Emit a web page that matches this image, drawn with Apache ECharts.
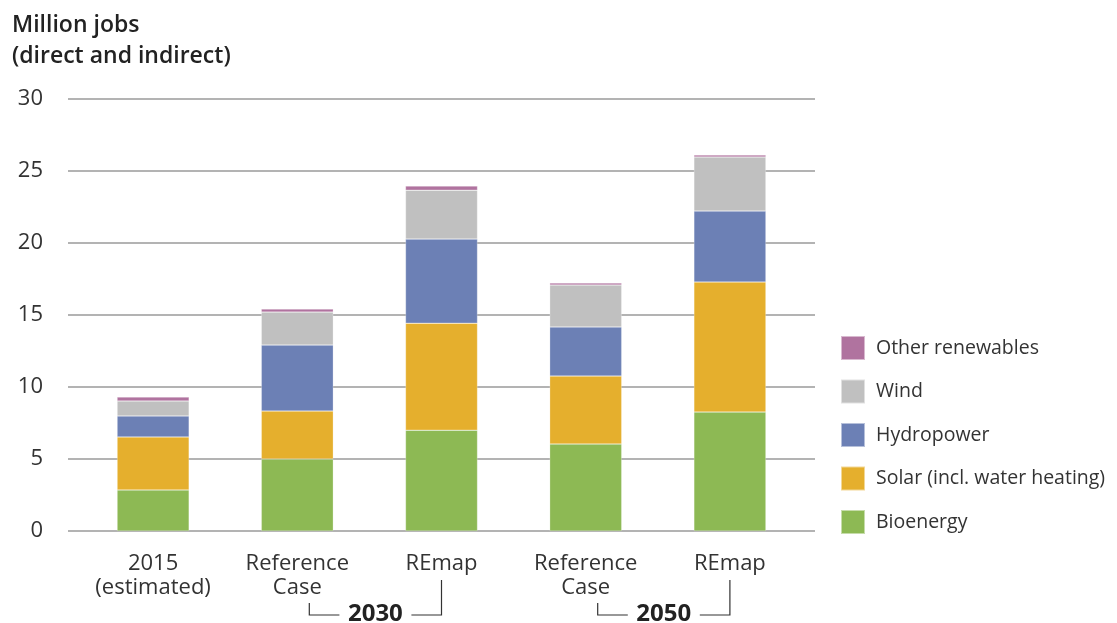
<!DOCTYPE html>
<html>
<head>
<meta charset="utf-8">
<script src="https://cdn.jsdelivr.net/npm/echarts@6/dist/echarts.min.js"></script>
<style>html,body{margin:0;padding:0;background:#fff;}#c{width:1117px;height:623px;}</style>
</head>
<body>
<div id="c"></div>
<script>
const categories = ['2015\n(estimated)', 'Reference\nCase', 'REmap', 'Reference\nCase', 'REmap'];
const groupLabels = ['2030', '2050'];
const bioenergy = [2.85, 5.0, 7.0, 6.04, 8.26];
const solar = [3.68, 3.33, 7.43, 4.72, 9.03];
const hydropower = [1.46, 4.58, 5.84, 3.41, 4.93];
const wind = [1.04, 2.29, 3.4, 2.91, 3.75];
const other = [0.27, 0.21, 0.28, 0.14, 0.14];
const yTicks = [0, 5, 10, 15, 20, 25, 30];

const FONT = '"Open Sans", sans-serif';
const colors = {
  bio: '#8DB954', solar: '#E5AF2D', hydro: '#6C80B5', wind: '#C0C0C0', other: '#B0739F'
};

const chart = echarts.init(document.getElementById('c'));
function mk(name, data, color) {
  return {
    name, type: 'bar', stack: 'total', xAxisIndex: 1, yAxisIndex: 1,
    barWidth: 72, data,
    itemStyle: { color, borderColor: 'rgba(255,255,255,0.5)', borderWidth: 0.5 }
  };
}
const option = {
  animation: false,
  backgroundColor: '#ffffff',
  textStyle: { fontFamily: FONT },
  title: {
    text: 'Million jobs\n(direct and indirect)',
    left: 7, top: 5,
    textStyle: { fontFamily: FONT, fontSize: 23, fontWeight: 600, color: '#222', lineHeight: 31 }
  },
  legend: {
    orient: 'vertical', left: 835, top: 330,
    itemWidth: 24, itemHeight: 24, itemGap: 17.5,
    data: ['Other renewables', 'Wind', 'Hydropower', 'Solar (incl. water heating)', 'Bioenergy'],
    textStyle: { fontFamily: FONT, fontSize: 19.5, color: '#333', lineHeight: 24, padding: [0, 0, 0, 6] },
    icon: 'rect'
  },
  grid: [
    { left: 68, right: 302, top: 99, bottom: 92 },
    { left: 81, right: 315, top: 99, bottom: 92 }
  ],
  xAxis: [
    { gridIndex: 0, type: 'value', show: false, min: 0, max: 1 },
    {
      gridIndex: 1, type: 'category', data: categories,
      axisLine: { show: false }, axisTick: { show: false },
      axisLabel: { interval: 0, hideOverlap: false, fontFamily: FONT, fontSize: 22, color: '#333', lineHeight: 24, margin: 21 }
    }
  ],
  yAxis: [
    {
      gridIndex: 0, type: 'value', min: yTicks[0], max: yTicks[yTicks.length - 1], interval: 5,
      axisLine: { show: false }, axisTick: { show: false },
      splitLine: { lineStyle: { color: '#9a9a9a', width: 1.5 } },
      axisLabel: { fontFamily: FONT, fontSize: 22, color: '#333', margin: 25 }
    },
    { gridIndex: 1, type: 'value', min: 0, max: 30, show: false, splitLine: { show: false } }
  ],
  series: [
    mk('Bioenergy', bioenergy, colors.bio),
    mk('Solar (incl. water heating)', solar, colors.solar),
    mk('Hydropower', hydropower, colors.hydro),
    mk('Wind', wind, colors.wind),
    mk('Other renewables', other, colors.other)
  ]
};
chart.setOption(option);

// Group brackets under the 2030 and 2050 pairs
const els = [];
const lineStyle = { stroke: '#333', lineWidth: 1.2 };
[[1, 2, groupLabels[0]], [3, 4, groupLabels[1]]].forEach(([a, b, label]) => {
  const xa = chart.convertToPixel({ xAxisIndex: 1 }, a) + 12;
  const xb = chart.convertToPixel({ xAxisIndex: 1 }, b);
  const yb = 615;
  const mid = (xa + xb) / 2;
  els.push({ type: 'polyline', shape: { points: [[xa, 603], [xa, yb], [mid - 36, yb]] }, style: Object.assign({ fill: null }, lineStyle) });
  els.push({ type: 'polyline', shape: { points: [[mid + 36, yb], [xb, yb], [xb, 580]] }, style: Object.assign({ fill: null }, lineStyle) });
  els.push({ type: 'text', x: mid, y: 614, style: { text: label, font: '700 24px ' + FONT, fill: '#222', align: 'center', verticalAlign: 'middle' } });
});
chart.setOption({ graphic: els });
</script>
</body>
</html>
